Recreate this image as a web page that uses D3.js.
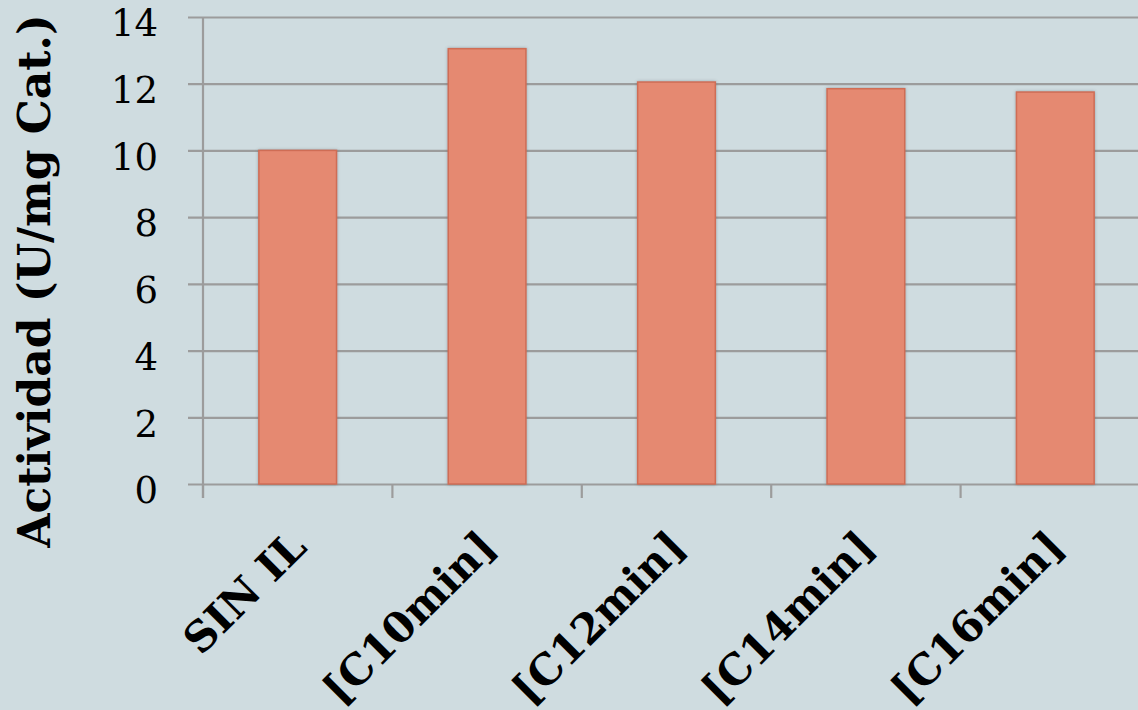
<!DOCTYPE html>
<html>
<head>
<meta charset="utf-8">
<script src="https://cdn.jsdelivr.net/npm/d3@7"></script>
<style>
  html, body { margin: 0; padding: 0; background: #cfdce0; overflow: hidden; }
  svg { display: block; font-family: Georgia, "DejaVu Serif", "Liberation Serif", serif; }
</style>
</head>
<body>
<div id="chart"></div>
<script>
// chart data
const categories = ['SIN IL', '[C10min]', '[C12min]', '[C14min]', '[C16min]'];
const actividad = [10.0, 13.05, 12.05, 11.85, 11.75];
const yTicks = [0, 2, 4, 6, 8, 10, 12, 14];
const yLabel = 'Actividad (U/mg Cat.)';

const width = 1138;
const height = 710;
const margin = { top: 17, right: -12, bottom: 226, left: 203 };
const innerWidth = width - margin.left - margin.right;
const innerHeight = height - margin.top - margin.bottom;

const svg = d3.select('#chart')
  .append('svg')
  .attr('width', width)
  .attr('height', height);

svg.append('rect')
  .attr('width', width)
  .attr('height', height)
  .attr('fill', '#cfdce0');

const defs = svg.append('defs');
const shadow = defs.append('filter')
  .attr('id', 'shadow')
  .attr('x', '-20%').attr('y', '-5%')
  .attr('width', '140%').attr('height', '110%');
shadow.append('feDropShadow')
  .attr('dx', 0).attr('dy', 0)
  .attr('stdDeviation', 1.6)
  .attr('flood-color', '#4a5a60')
  .attr('flood-opacity', 0.45);

const g = svg.append('g')
  .attr('transform', `translate(${margin.left},${margin.top})`);

const x = d3.scaleBand()
  .domain(categories)
  .range([0, innerWidth])
  .paddingInner(0.59)
  .paddingOuter(0.295);

const y = d3.scaleLinear()
  .domain([0, 14])
  .range([innerHeight, 0]);

// horizontal gridlines with left tick stubs
g.append('g')
  .call(d3.axisLeft(y).tickValues(yTicks).tickSize(-innerWidth - 15).tickFormat(''))
  .attr('transform', 'translate(-15,0)')
  .call(a => a.select('.domain').remove())
  .call(a => a.selectAll('line').attr('stroke', '#9c9c9c').attr('stroke-width', 2.2));

// y axis line
g.append('line')
  .attr('x1', 0).attr('x2', 0)
  .attr('y1', 0).attr('y2', innerHeight + 14)
  .attr('stroke', '#9c9c9c')
  .attr('stroke-width', 2.2);

// y tick labels
g.append('g')
  .selectAll('text')
  .data(yTicks)
  .join('text')
  .attr('x', -45)
  .attr('y', d => y(d) + 6)
  .attr('dy', '0.36em')
  .attr('text-anchor', 'end')
  .attr('font-size', 37)
  .attr('fill', '#000')
  .text(d => d);

// category ticks below the axis
const step = x.step();
const tickPositions = d3.range(categories.length + 1).map(i => i * step);
g.append('g')
  .selectAll('line')
  .data(tickPositions)
  .join('line')
  .attr('x1', d => d).attr('x2', d => d)
  .attr('y1', innerHeight).attr('y2', innerHeight + 14)
  .attr('stroke', '#9c9c9c')
  .attr('stroke-width', 2.2);

// bars
g.append('g')
  .selectAll('rect')
  .data(actividad)
  .join('rect')
  .attr('x', (d, i) => x(categories[i]))
  .attr('y', d => y(d))
  .attr('width', x.bandwidth())
  .attr('height', d => innerHeight - y(d))
  .attr('fill', '#e58971')
  .attr('stroke', '#cf6d55')
  .attr('stroke-width', 1.5)
  .attr('filter', 'url(#shadow)');

// x labels rotated
g.append('g')
  .selectAll('text')
  .data(categories)
  .join('text')
  .attr('transform', d => `translate(${x(d) + x.bandwidth() / 2 + 11},${549 - margin.top}) rotate(-45)`)
  .attr('text-anchor', 'end')
  .attr('font-size', 42)
  .attr('font-weight', 'bold')
  .attr('fill', '#000')
  .text(d => d);

// y axis title
svg.append('text')
  .attr('transform', `translate(50,281) rotate(-90)`)
  .attr('text-anchor', 'middle')
  .attr('font-size', 44)
  .attr('font-weight', 'bold')
  .attr('fill', '#000')
  .text(yLabel);
</script>
</body>
</html>
